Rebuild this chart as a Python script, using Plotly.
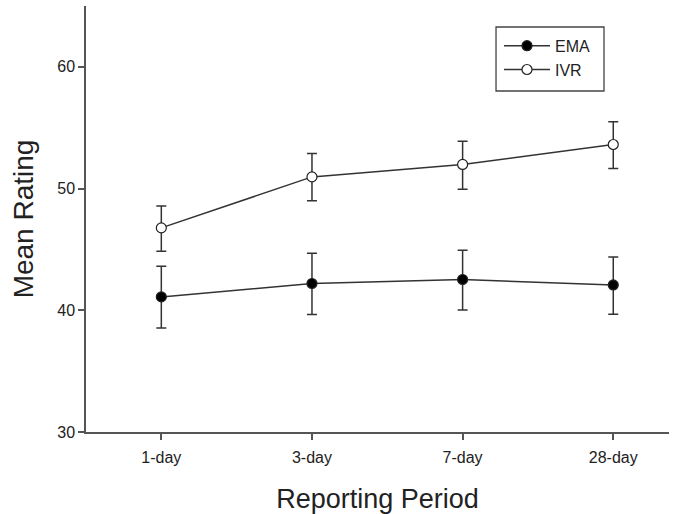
import plotly.graph_objects as go

periods = ["1-day", "3-day", "7-day", "28-day"]
ema_mean = [41.10, 42.20, 42.53, 42.08]
ema_upper = [43.62, 44.69, 44.93, 44.38]
ema_lower = [38.55, 39.65, 40.03, 39.67]
ivr_mean = [46.77, 50.96, 51.98, 53.62]
ivr_upper = [48.57, 52.88, 53.89, 55.48]
ivr_lower = [44.85, 48.99, 49.95, 51.65]

xpos = list(range(len(periods)))

def errs(mean, up, lo):
    return [u - m for u, m in zip(up, mean)], [m - l for m, l in zip(mean, lo)]

fig = go.Figure()
for name, mean, up, lo, fill in [
    ("EMA", ema_mean, ema_upper, ema_lower, "black"),
    ("IVR", ivr_mean, ivr_upper, ivr_lower, "white"),
]:
    plus, minus = errs(mean, up, lo)
    fig.add_trace(go.Scatter(
        x=xpos, y=mean, name=name, mode="lines+markers",
        line=dict(color="#333333", width=1.5),
        marker=dict(size=10, color=fill, line=dict(color="#222222", width=1.2)),
        error_y=dict(type="data", symmetric=False, array=plus, arrayminus=minus,
                     color="#333333", thickness=1.5, width=5),
    ))

# legend frame
fig.add_shape(type="rect", xref="paper", yref="paper",
              x0=0.7033, x1=0.8885, y0=0.8005, y1=0.9507,
              line=dict(color="#444444", width=1.3), fillcolor="rgba(0,0,0,0)")

fig.update_layout(
    width=679, height=514,
    margin=dict(l=86, r=10, t=6, b=82, autoexpand=False),
    paper_bgcolor="white", plot_bgcolor="white",
    font=dict(family="Liberation Sans, Arial, sans-serif", color="#222222"),
    showlegend=True,
    legend=dict(x=0.7084, y=0.9465, xanchor="left", yanchor="top",
                borderwidth=0, bgcolor="rgba(0,0,0,0)",
                font=dict(size=16), itemwidth=46, tracegroupgap=0),
    xaxis=dict(
        range=[-0.5, 3.37], tickvals=xpos, ticktext=periods,
        showline=True, linecolor="#555555", linewidth=1.5,
        ticks="outside", ticklen=6, tickcolor="#555555", tickwidth=1.5,
        ticklabelstandoff=4,
        showgrid=False, zeroline=False, tickfont=dict(size=16),
        title=dict(text="Reporting Period", font=dict(size=27), standoff=24),
    ),
    yaxis=dict(
        range=[30, 65], tickvals=[30, 40, 50, 60],
        showline=True, linecolor="#555555", linewidth=1.5,
        ticks="outside", ticklen=6, tickcolor="#555555", tickwidth=1.5,
        showgrid=False, zeroline=False, tickfont=dict(size=16),
        title=dict(text="Mean Rating", font=dict(size=28), standoff=15),
    ),
)

fig.write_html("out.html", config={"displayModeBar": False},
               post_script="document.body.style.margin='0';")
